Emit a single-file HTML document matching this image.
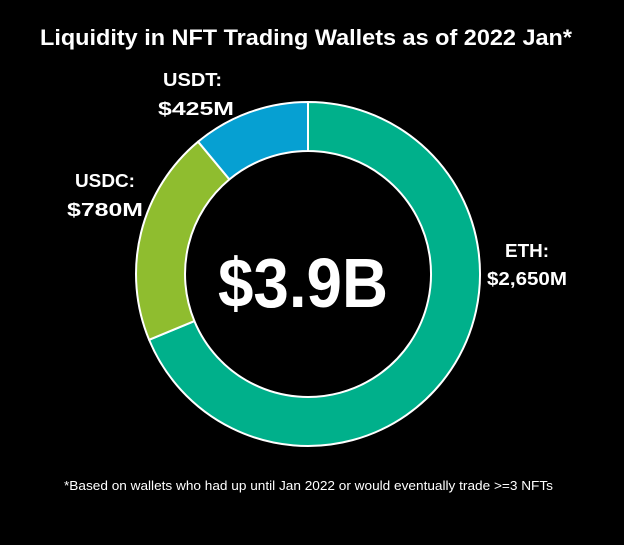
<!DOCTYPE html>
<html><head><meta charset="utf-8"><style>
html,body{margin:0;padding:0;background:#000;}
svg{display:block;}
text{font-family:"Liberation Sans",sans-serif;fill:#fff;font-weight:bold;}
</style></head><body>
<svg width="624" height="545" viewBox="0 0 624 545">
<rect width="624" height="545" fill="#000"/>
<text x="40" y="45" font-size="22" textLength="532" lengthAdjust="spacingAndGlyphs">Liquidity in NFT Trading Wallets as of 2022 Jan*</text>
<g stroke="#fff" stroke-width="2" stroke-linejoin="round">
<path d="M308,102 A172,172 0 1 1 149.1,339.8 L194.4,321.1 A123,123 0 1 0 308,151 Z" fill="#00b08b"/>
<path d="M149.1,339.8 A172,172 0 0 1 198.1,141.7 L229.4,179.4 A123,123 0 0 0 194.4,321.1 Z" fill="#8fbd2f"/>
<path d="M198.1,141.7 A172,172 0 0 1 308,102 L308,151 A123,123 0 0 0 229.4,179.4 Z" fill="#06a0d2"/>
</g>
<text x="218" y="307" font-size="70" textLength="170" lengthAdjust="spacingAndGlyphs">$3.9B</text>
<text x="163" y="86" font-size="18" textLength="59" lengthAdjust="spacingAndGlyphs">USDT:</text>
<text x="158" y="115" font-size="18" textLength="76" lengthAdjust="spacingAndGlyphs">$425M</text>
<text x="75" y="187" font-size="18" textLength="60" lengthAdjust="spacingAndGlyphs">USDC:</text>
<text x="67" y="216" font-size="18" textLength="76" lengthAdjust="spacingAndGlyphs">$780M</text>
<text x="505" y="257" font-size="18" textLength="44" lengthAdjust="spacingAndGlyphs">ETH:</text>
<text x="487" y="285" font-size="18" textLength="80" lengthAdjust="spacingAndGlyphs">$2,650M</text>
<text x="64" y="490" font-size="13" textLength="489" lengthAdjust="spacingAndGlyphs" style="font-weight:normal">*Based on wallets who had up until Jan 2022 or would eventually trade &gt;=3 NFTs</text>
</svg>
</body></html>
